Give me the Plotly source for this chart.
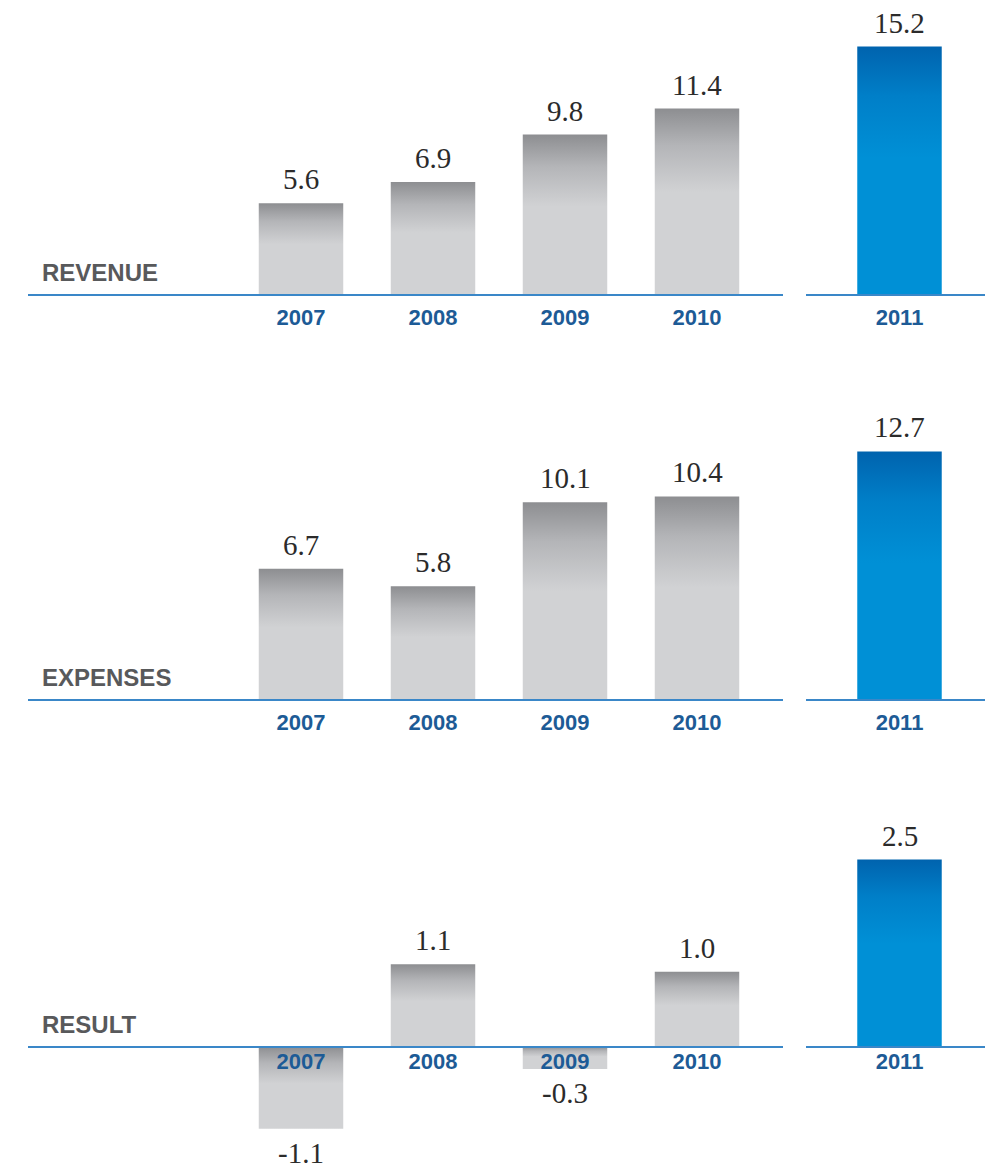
import plotly.graph_objects as go

# ---------------- data ----------------
years_hist = ["2007", "2008", "2009", "2010"]
years_2011 = ["2011"]
panel_titles = ["REVENUE", "EXPENSES", "RESULT"]
revenue_hist = [5.6, 6.9, 9.8, 11.4]
revenue_2011 = [15.2]
expenses_hist = [6.7, 5.8, 10.1, 10.4]
expenses_2011 = [12.7]
result_hist = [-1.1, 1.1, -0.3, 1.0]
result_2011 = [2.5]

# ---------------- layout constants ----------------
WIN_W, WIN_H = 993, 1168
OFF = 8                    # default page margin of the html body
W, H = WIN_W - OFF, WIN_H - OFF
SPACING = 132.0            # px between category centres
LEFT_PX = (28, 783)        # left axis extent (window px)
LEFT_C0 = 301.0            # window px of first category centre
RIGHT_PX = (806, 993)
RIGHT_C0 = 899.5
BAR_W = 0.64

GRAY_TOP, GRAY_MID, GRAY_BOT = "#8d8e91", "#b4b5b8", "#d1d2d4"
BLUE_TOP, BLUE_MID, BLUE_BOT = "#0063ae", "#007fc8", "#0090d6"
AXIS_COL = "#3a87c8"
TICK_COL = "#1d5b96"
TITLE_COL = "#58595b"
VAL_COL = "#2b2b2b"

# per panel: baseline px, px per unit, domain top px, domain bottom px, tick standoff
panel_geom = [
    dict(base=294.5, ppu=248 / 15.2, top=8, bot=345, standoff=3),
    dict(base=699.5, ppu=248 / 12.7, top=380, bot=750, standoff=3),
    dict(base=1046.5, ppu=187 / 2.5, top=790, bot=1168, standoff=-5),
]
panel_data = [
    (revenue_hist, revenue_2011),
    (expenses_hist, expenses_2011),
    (result_hist, result_2011),
]


def fx(px):
    return (px - OFF) / W


def fy(py):
    return 1 - (py - OFF) / H


fig = go.Figure()
layout = {}
annotations = []


def axis_suffix(n):
    return "" if n == 1 else str(n)


for p, (geom, (hist, fc), title) in enumerate(zip(panel_geom, panel_data, panel_titles)):
    ppu = geom["ppu"]
    base = geom["base"]
    y_range = [-(geom["bot"] - base) / ppu, (base - geom["top"]) / ppu]
    y_dom = [max(0, fy(geom["bot"])), min(1, fy(geom["top"]))]
    base_paper = fy(base)

    sides = [
        (years_hist, hist, LEFT_PX, LEFT_C0, (GRAY_TOP, GRAY_MID, GRAY_BOT)),
        (years_2011, fc, RIGHT_PX, RIGHT_C0, (BLUE_TOP, BLUE_MID, BLUE_BOT)),
    ]
    for s, (cats, vals, px, c0, cols) in enumerate(sides):
        n = 2 * p + s + 1
        suf = axis_suffix(n)
        xname, yname = "x" + suf, "y" + suf
        x_range = [(px[0] - c0) / SPACING, (px[1] - c0) / SPACING]
        layout["xaxis" + suf] = dict(
            domain=[max(0, fx(px[0])), min(1, fx(px[1]))],
            range=x_range,
            anchor="free",
            position=base_paper,
            showline=True,
            linecolor=AXIS_COL,
            linewidth=2,
            showgrid=False,
            zeroline=False,
            ticks="",
            tickvals=list(range(len(cats))),
            ticktext=cats,
            tickfont=dict(family="Liberation Sans", size=22, color=TICK_COL, weight="bold"),
            ticklabelstandoff=geom["standoff"],
            layer="above traces",
            fixedrange=True,
        )
        layout["yaxis" + suf] = dict(
            domain=y_dom,
            range=y_range,
            anchor=xname,
            visible=False,
            showgrid=False,
            zeroline=False,
            fixedrange=True,
        )
        for i, v in enumerate(vals):
            x0, x1 = i - BAR_W / 2, i + BAR_W / 2
            top, bot = max(v, 0), min(v, 0)
            fig.add_trace(go.Scatter(
                x=[x0, x1, x1, x0, x0],
                y=[bot, bot, top, top, bot],
                xaxis=xname, yaxis=yname,
                mode="lines",
                line=dict(width=0),
                fill="toself",
                fillgradient=dict(
                    type="vertical",
                    colorscale=[[0, cols[0]], [0.2, cols[1]], [0.45, cols[2]], [1, cols[2]]],
                    start=top, stop=bot,
                ),
                name=f"{title} {cats[i]}",
                hoverinfo="text",
                hovertext=f"{title} {cats[i]}: {v:.1f}",
                showlegend=False,
            ))
            annotations.append(dict(
                x=i, y=v, xref=xname, yref=yname,
                text=f"{v:.1f}",
                showarrow=False,
                xanchor="center",
                yanchor="bottom" if v >= 0 else "top",
                yshift=6 if v >= 0 else -6,
                font=dict(family="Liberation Serif", size=29, color=VAL_COL),
            ))

    annotations.append(dict(
        x=fx(40), y=base_paper, xref="paper", yref="paper",
        text=f"<b>{title}</b>",
        showarrow=False,
        xanchor="left", yanchor="bottom",
        yshift=7,
        font=dict(family="Liberation Sans", size=24, color=TITLE_COL),
    ))

fig.update_layout(
    width=W, height=H,
    margin=dict(l=0, r=0, t=0, b=0),
    paper_bgcolor="white",
    plot_bgcolor="white",
    showlegend=False,
    annotations=annotations,
    **layout,
)

fig.write_html("out.html")
